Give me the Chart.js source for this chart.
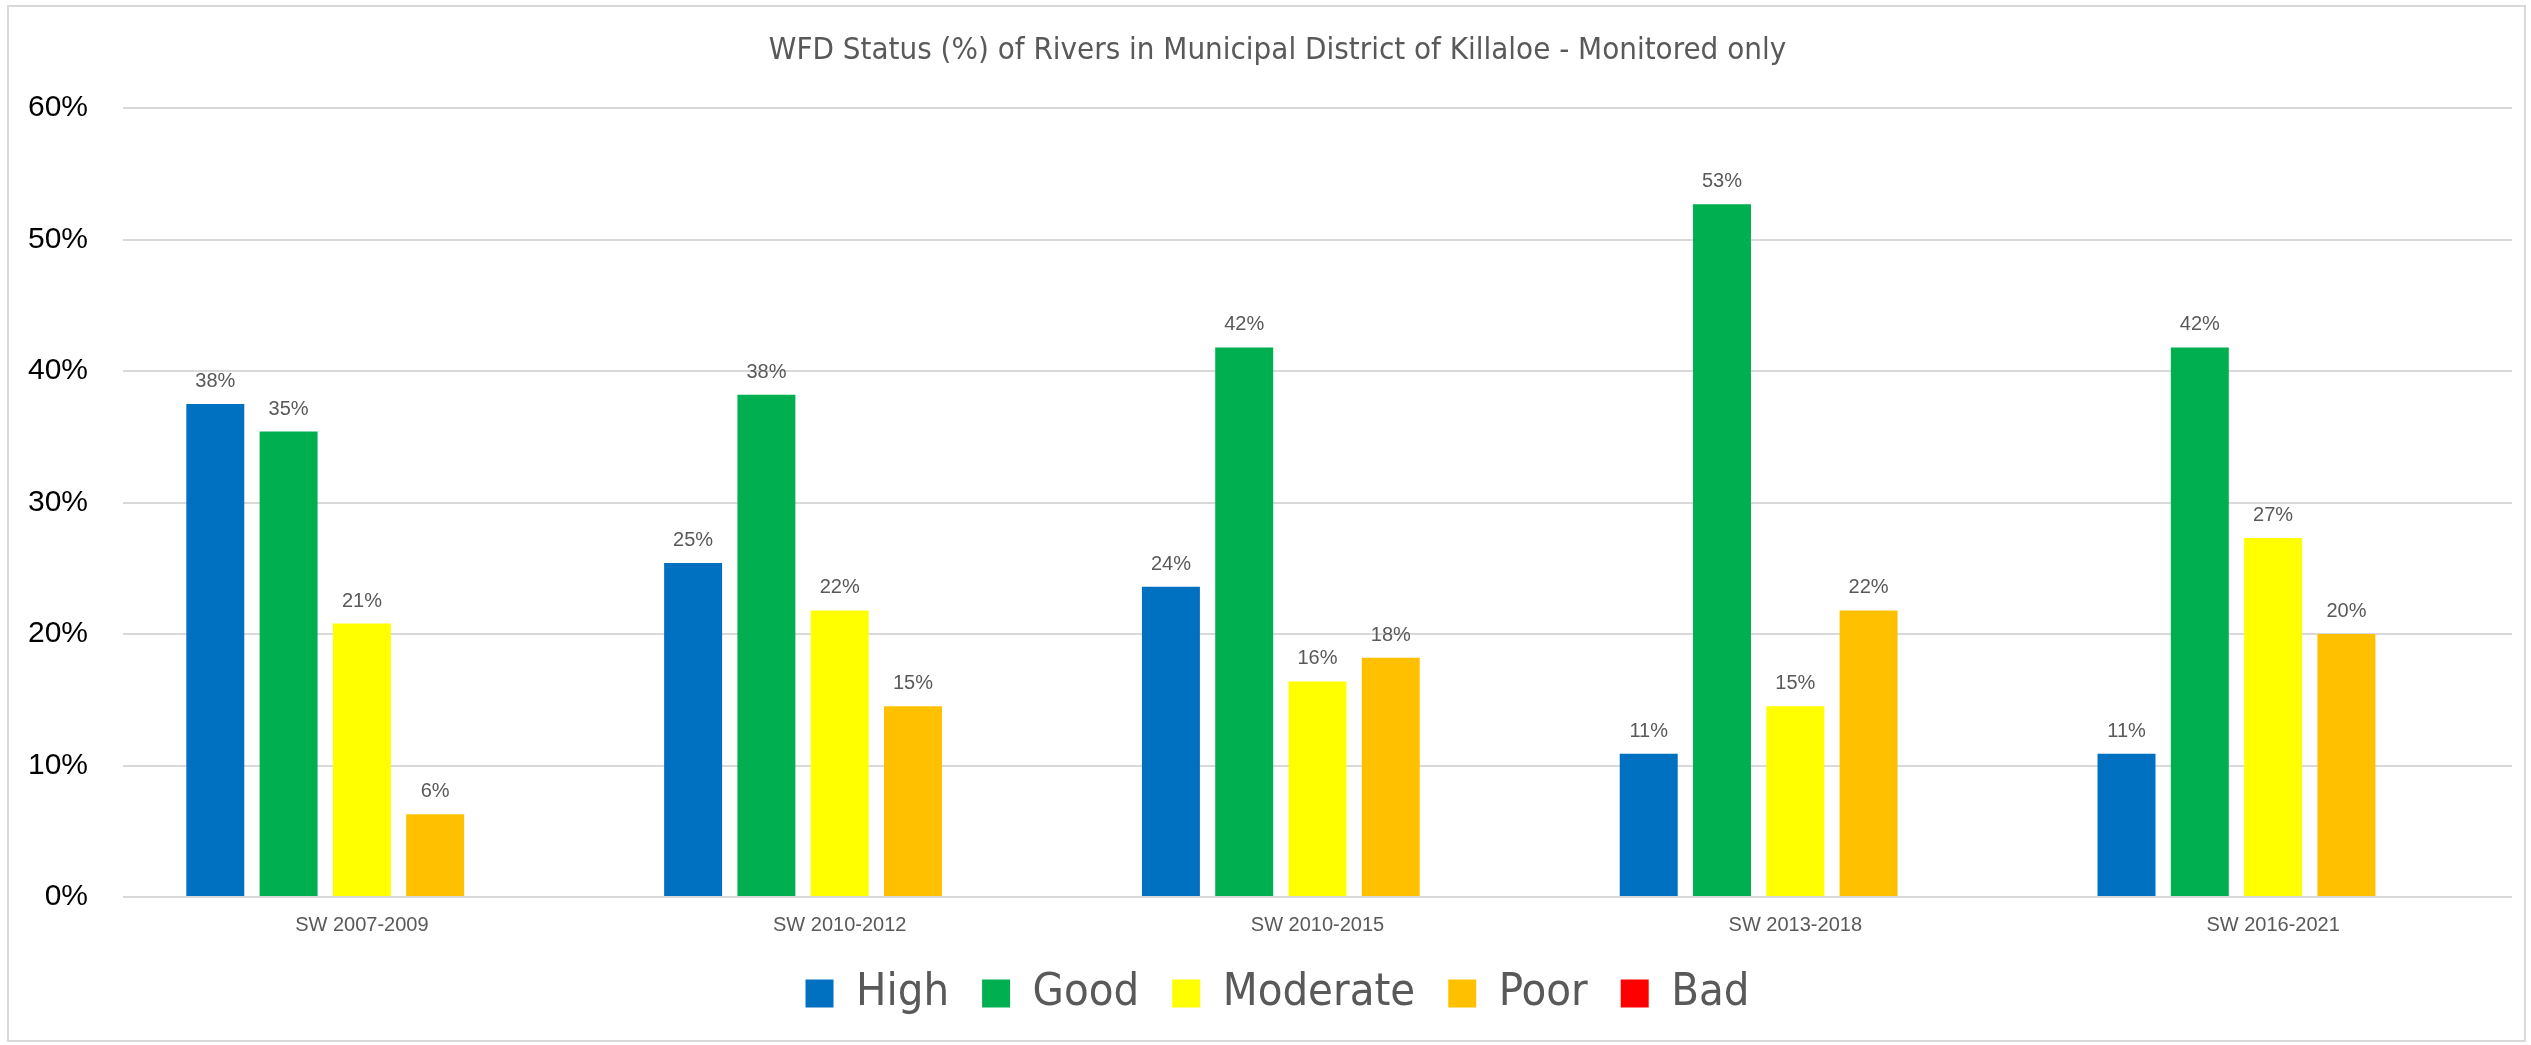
<!DOCTYPE html>
<html>
<head>
<meta charset="utf-8">
<title>WFD Status - Killaloe</title>
<script src="https://cdn.jsdelivr.net/npm/chart.js@4.4.1/dist/chart.umd.min.js"></script>
<style>
  html, body { margin:0; padding:0; background:#fff; overflow:hidden; }
  #wrap { position:relative; width:2531px; height:1045px; }
  #frame { position:absolute; left:7px; top:5px; width:2519px; height:1037px;
           border:2px solid #d9d9d9; box-sizing:border-box; }
  #chart { position:absolute; left:0; top:0; }
</style>
</head>
<body>
<div id="wrap">
  <div id="frame"></div>
  <canvas id="chart" width="2531" height="1045"></canvas>
</div>
<script>
// ---------- data ----------
const periods  = ['SW 2007-2009', 'SW 2010-2012', 'SW 2010-2015', 'SW 2013-2018', 'SW 2016-2021'];
const high     = [37.5, 25.4, 23.6, 10.9, 10.9];
const good     = [35.4, 38.2, 41.8, 52.7, 41.8];
const moderate = [20.8, 21.8, 16.4, 14.5, 27.3];
const poor     = [6.3, 14.5, 18.2, 21.8, 20.0];
const bad      = [0, 0, 0, 0, 0];
const yTicks   = [0, 10, 20, 30, 40, 50, 60];

const narrow = '"Liberation Sans Narrow", "Arial Narrow", "DejaVu Sans Condensed", sans-serif';
const sans   = '"Liberation Sans", Arial, sans-serif';

function series(label, data, color, labels){
  return {
    label, data,
    backgroundColor: color,
    borderWidth: 0,
    categoryPercentage: 0.767,
    barPercentage: 0.791,
    showValues: labels
  };
}

// value labels above bars (no datalabels plugin offline)
const valueLabels = {
  id: 'valueLabels',
  afterDatasetsDraw(chart){
    const ctx = chart.ctx;
    ctx.save();
    ctx.font = '20px ' + sans;
    ctx.fillStyle = '#595959';
    ctx.textAlign = 'center';
    ctx.textBaseline = 'alphabetic';
    chart.data.datasets.forEach((ds, i)=>{
      if(!ds.showValues) return;
      chart.getDatasetMeta(i).data.forEach((bar, j)=>{
        ctx.fillText(Math.round(ds.data[j]) + '%', bar.x, bar.y - 17);
      });
    });
    ctx.restore();
  }
};

const ctx = document.getElementById('chart').getContext('2d');
new Chart(ctx, {
  type: 'bar',
  data: {
    labels: periods,
    datasets: [
      series('High', high, '#0070C0', true),
      series('Good', good, '#00B050', true),
      series('Moderate', moderate, '#FFFF00', true),
      series('Poor', poor, '#FFC000', true),
      series('Bad', bad, '#FF0000', false)
    ]
  },
  options: {
    responsive: false,
    animation: false,
    layout: { padding: { left: 24, right: 0, top: 0, bottom: 19 } },
    plugins: {
      title: {
        display: true,
        text: 'WFD Status (%) of Rivers in Municipal District of Killaloe - Monitored only',
        color: '#595959',
        font: { family: narrow, size: 31, weight: 'normal', lineHeight: 1.2 },
        padding: { top: 32, bottom: 39 }
      },
      legend: {
        position: 'bottom',
        labels: {
          color: '#595959',
          font: { family: narrow, size: 45 },
          boxWidth: 28,
          boxHeight: 28,
          padding: 33
        }
      },
      tooltip: { enabled: false }
    },
    scales: {
      x: {
        grid: { display: false },
        border: { display: false },
        ticks: { color: '#595959', font: { family: sans, size: 20 }, padding: 8, maxRotation: 0 },
        afterFit: s => { s.height = 41; }
      },
      y: {
        min: yTicks[0],
        max: yTicks[yTicks.length - 1],
        grid: { color: '#d9d9d9', lineWidth: 2, drawTicks: false },
        border: { display: false },
        ticks: { stepSize: yTicks[1] - yTicks[0], color: '#000',
                 font: { family: sans, size: 30 }, padding: 35,
                 callback: v => v + '%' },
        afterFit: s => { s.width = 99; }
      },
      // empty right-hand spacer so title and legend centre like the original
      yr: {
        position: 'right',
        display: true,
        grid: { display: false },
        border: { display: false },
        ticks: { display: false },
        afterFit: s => { s.width = 19; }
      }
    }
  },
  plugins: [valueLabels]
});
</script>
</body>
</html>
